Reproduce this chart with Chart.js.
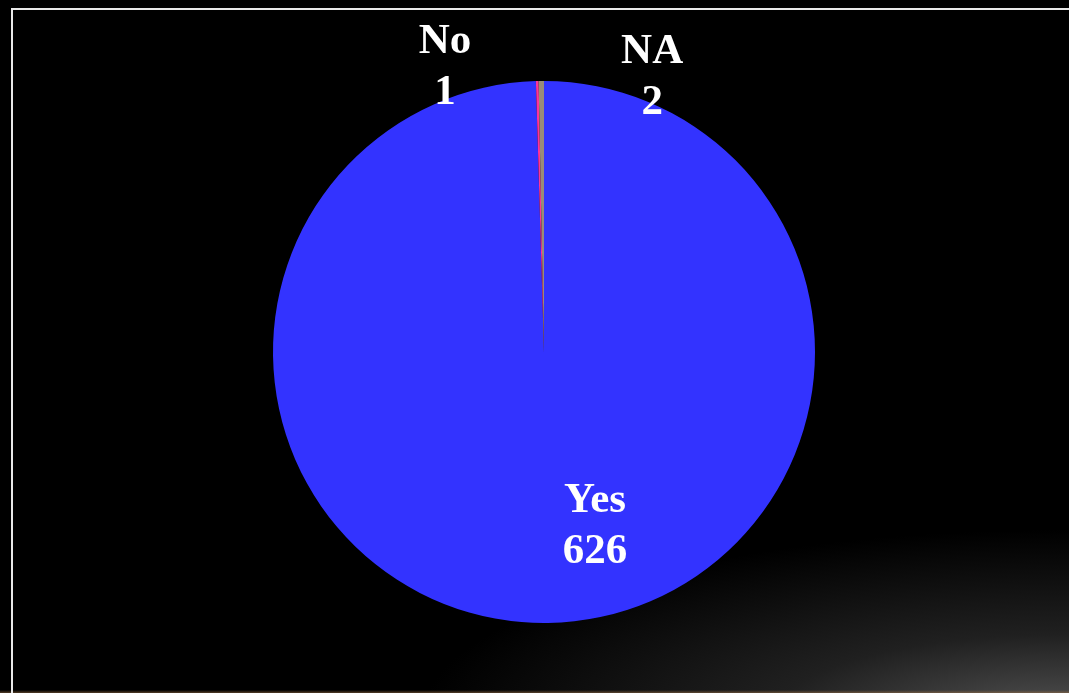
<!DOCTYPE html>
<html>
<head>
<meta charset="utf-8">
<script src="https://cdn.jsdelivr.net/npm/chart.js@4.4.1/dist/chart.umd.min.js"></script>
<style>
  html, body { margin: 0; padding: 0; background: #000; }
  #wrap {
    position: relative; width: 1069px; height: 693px; overflow: hidden;
    background:
      linear-gradient(to top, rgba(150,110,70,0.55) 0px, rgba(150,110,70,0) 3px),
      radial-gradient(ellipse 640px 190px at 1060px 720px, rgba(85,85,85,1) 0%, rgba(40,40,40,0.8) 45%, rgba(0,0,0,0) 100%),
      #000;
  }
  #frame {
    position: absolute; left: 11px; top: 8px; width: 1100px; height: 720px;
    border-left: 2px solid #e8e8e8; border-top: 2px solid #e8e8e8;
  }
  #chartBox { position: absolute; left: 0; top: 0; width: 1069px; height: 693px; }
</style>
</head>
<body>
<div id="wrap">
  <div id="frame"></div>
  <div id="chartBox"><canvas id="pieChart"></canvas></div>
</div>
<script>
// data
const categories = ['Yes', 'No', 'NA'];
const counts = [626, 1, 2];
const sliceColors = ['#3333ff', '#ff3399', '#9a8c78'];

// where each label sits, relative to the pie centre, in radius units (first line baseline)
const labelOffsets = [[0.188, 0.590], [-0.365, -1.103], [0.399, -1.066]];

const pieLabels = {
    id: 'pieLabels',
    afterDatasetsDraw(chart) {
        const ctx = chart.ctx;
        const arcs = chart.getDatasetMeta(0).data;
        ctx.save();
        ctx.fillStyle = '#ffffff';
        ctx.font = 'bold 43px "Liberation Serif", "DejaVu Serif", serif';
        ctx.textAlign = 'center';
        ctx.textBaseline = 'alphabetic';
        arcs.forEach((arc, i) => {
            const r = arc.outerRadius;
            const x = arc.x + labelOffsets[i][0] * r;
            const y = arc.y + labelOffsets[i][1] * r;
            ctx.fillText(categories[i], x, y);
            ctx.fillText(String(counts[i]), x, y + 51);
        });
        ctx.restore();
    }
};

new Chart(document.getElementById('pieChart'), {
    type: 'pie',
    data: {
        labels: categories,
        datasets: [{
            data: counts,
            backgroundColor: sliceColors,
            borderWidth: 0,
        }],
    },
    options: {
        responsive: true,
        maintainAspectRatio: false,
        animation: false,
        layout: { padding: { top: 81, bottom: 70, left: 19, right: 0 } },
        plugins: {
            legend: { display: false },
            tooltip: { enabled: false },
        },
    },
    plugins: [pieLabels],
});
</script>
</body>
</html>
